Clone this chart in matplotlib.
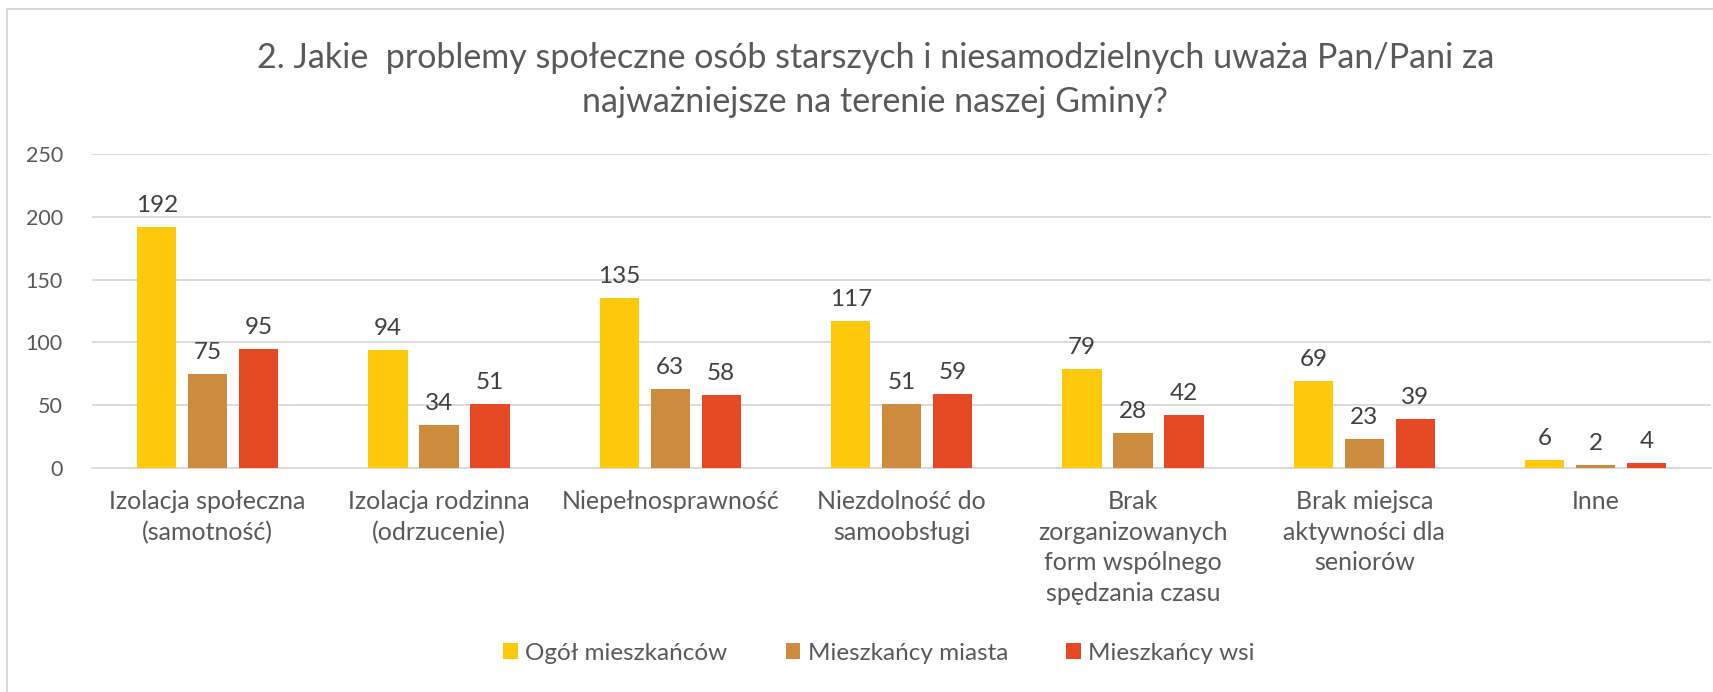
import numpy as np
import matplotlib
matplotlib.use("Agg")
import matplotlib.pyplot as plt
from matplotlib.lines import Line2D

categories = ["Izolacja społeczna\n(samotność)", "Izolacja rodzinna\n(odrzucenie)",
              "Niepełnosprawność", "Niezdolność do\nsamoobsługi",
              "Brak\nzorganizowanych\nform wspólnego\nspędzania czasu",
              "Brak miejsca\naktywności dla\nseniorów", "Inne"]
series_names = ["Ogół mieszkańców", "Mieszkańcy miasta", "Mieszkańcy wsi"]
ogol = [192, 94, 135, 117, 79, 69, 6]
miasto = [75, 34, 63, 51, 28, 23, 2]
wies = [95, 51, 58, 59, 42, 39, 4]
colors = ["#FFC90B", "#CD8B3E", "#E54A24"]

plt.rcParams['font.family'] = ['Lato', 'DejaVu Sans']

fig = plt.figure(figsize=(17.13, 6.92), dpi=100)
ax = fig.add_axes([0.0537, 0.3237, 0.9453, 0.4538])

x = np.arange(len(categories))
w = 0.17
step = 0.22
for i, (vals, name, c) in enumerate(zip([ogol, miasto, wies], series_names, colors)):
    bars = ax.bar(x + (i - 1) * step, vals, w, color=c, label=name, zorder=3)
    ax.bar_label(bars, padding=8, fontsize=17.5, color="#404040")

ax.set_ylim(0, 250)
ax.set_xlim(-0.5, len(categories) - 0.5)
ax.set_yticks(range(0, 251, 50))
ax.yaxis.grid(True, color="#D9D9D9", linewidth=1.3, zorder=0)
ax.set_xticks(x)
ax.set_xticklabels(categories, fontsize=18, color="#595959", linespacing=1.4)
ax.tick_params(axis="y", labelsize=15.5, labelcolor="#595959", length=0, pad=21)
ax.tick_params(axis="x", length=0, pad=16)
for s in ["top", "right", "left"]:
    ax.spines[s].set_visible(False)
ax.spines["bottom"].set_color("#D9D9D9")
ax.spines["bottom"].set_linewidth(1.3)

fig.text(0.511, 0.884, "2. Jakie  problemy społeczne osób starszych i niesamodzielnych uważa Pan/Pani za\nnajważniejsze na terenie naszej Gminy?",
         ha="center", va="center", fontsize=24.5, color="#595959", linespacing=1.45)

ax.legend(loc="center", bbox_to_anchor=(0.486, -0.59), ncol=3, frameon=False,
          fontsize=17.5, labelcolor="#595959", handlelength=0.6, handleheight=0.6,
          handletextpad=0.3, columnspacing=2.4)

# outer chart frame (left and top edges visible)
fig.add_artist(Line2D([0.0041, 0.0041], [0, 0.987], transform=fig.transFigure, color="#D9D9D9", lw=1.5))
fig.add_artist(Line2D([0.0041, 1], [0.987, 0.987], transform=fig.transFigure, color="#D9D9D9", lw=1.5))

fig.savefig("out.png", dpi=100)
